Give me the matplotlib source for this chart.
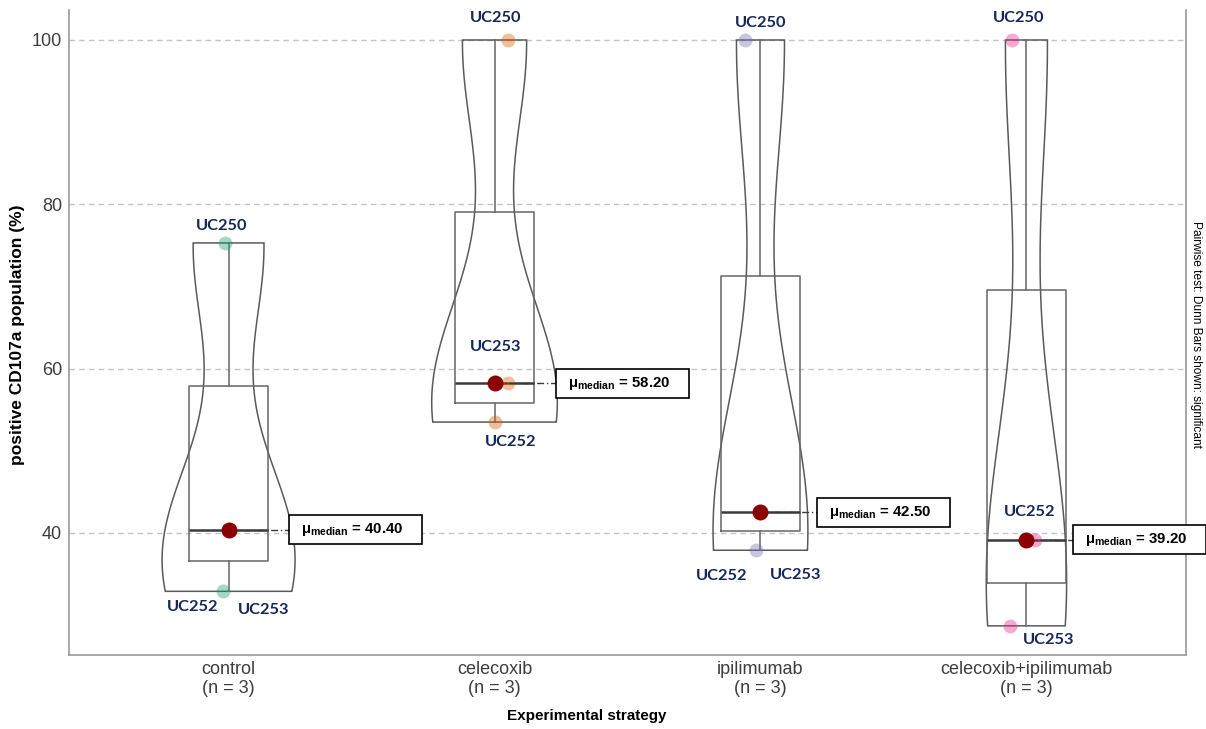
import numpy as np
import matplotlib
matplotlib.use("Agg")
import matplotlib.pyplot as plt
from matplotlib.patches import Rectangle

# ---------------- data ----------------
categories = ["control", "celecoxib", "ipilimumab", "celecoxib+ipilimumab"]
group_sizes = [3, 3, 3, 3]
sample_ids = ["UC250", "UC252", "UC253"]
control_values = [75.3, 32.9, 40.4]
celecoxib_values = [100.0, 53.5, 58.2]
ipilimumab_values = [100.0, 37.9, 42.5]
combination_values = [100.0, 39.2, 28.7]
y_ticks = [40, 60, 80, 100]

series = [control_values, celecoxib_values, ipilimumab_values, combination_values]

# ---------------- styling / layout ----------------
point_colors = ["#1B9E77", "#D95F02", "#7570B3", "#E7298A"]
jitter = [[-0.013, -0.02, 0.0], [0.05, 0.0, 0.05], [-0.06, -0.017, 0.0], [-0.055, 0.033, -0.062]]
# label offsets (pixels: dx right, dy up) relative to each point
label_offsets = [
    [(-3, 17), (-31, -16), (35, -80)],
    [(-12, 22), (16, -20), (-12, 36)],
    [(16, 17), (-34, -26), (35, -63)],
    [(7, 22), (-6, 28), (39, -14)],
]
median_label_dx = [0.227, 0.233, 0.212, 0.175]
label_color = "#16275C"

plt.rcParams["mathtext.fontset"] = "custom"
plt.rcParams["mathtext.rm"] = "Liberation Sans"
plt.rcParams["mathtext.bf"] = "Liberation Sans:bold"
plt.rcParams["font.family"] = ["Liberation Sans", "DejaVu Sans"]

W, H = 1206, 729
fig = plt.figure(figsize=(W / 100, H / 100), dpi=100)
ax = fig.add_axes([69 / W, 1 - 655 / H, (1186 - 69) / W, (655 - 10) / H])
ax.set_xlim(0.4, 4.6)
ax.set_ylim(25.15, 103.65)

positions = np.arange(1, len(categories) + 1)

# grid
for t in y_ticks:
    ax.axhline(t, color="#c4c4c4", lw=1.0, ls=(0, (4, 3)), zorder=0)


def bw_nrd0(x):
    x = np.asarray(x, float)
    sd = np.std(x, ddof=1)
    q75, q25 = np.percentile(x, [75, 25])
    lo = min(sd, (q75 - q25) / 1.34)
    return 0.9 * lo * len(x) ** -0.2


grids, dens = [], []
for vals in series:
    v = np.asarray(vals, float)
    bw = bw_nrd0(v)
    g = np.linspace(v.min(), v.max(), 512)
    d = np.exp(-0.5 * ((g[:, None] - v[None, :]) / bw) ** 2).sum(1) / (len(v) * bw * np.sqrt(2 * np.pi))
    grids.append(g)
    dens.append(d)
dmax = max(d.max() for d in dens)

# violins
for pos, g, d in zip(positions, grids, dens):
    hw = 0.25 * d / dmax
    xs = np.concatenate([pos - hw, (pos + hw)[::-1]])
    ys = np.concatenate([g, g[::-1]])
    ax.fill(xs, ys, facecolor="none", edgecolor="#5a5a5a", lw=1.1, zorder=2)

# boxes
ax.boxplot(series, positions=positions, widths=0.3, whis=1.5, showcaps=False,
           showfliers=False, manage_ticks=False,
           boxprops=dict(color="#666666", lw=1.1),
           whiskerprops=dict(color="#666666", lw=1.1),
           medianprops=dict(color="#3a3a3a", lw=1.8), zorder=3)

# points
for i, vals in enumerate(series):
    for j, v in enumerate(vals):
        ax.plot(positions[i] + jitter[i][j], v, "o", ms=10, color=point_colors[i],
                alpha=0.4, mec="none", zorder=4)

# median points and labels
for i, vals in enumerate(series):
    med = float(np.median(vals))
    x0 = positions[i]
    xl = x0 + median_label_dx[i]
    ax.plot([x0, xl], [med, med], color="#3a3a3a", lw=1.0, ls=(0, (5, 2, 1, 2)), zorder=5)
    ax.plot(x0, med, "o", ms=11.5, color="#8B0000", mec="none", zorder=6)
    ax.add_patch(Rectangle((xl, med - 1.77), 0.5, 3.54, facecolor="white",
                           edgecolor="black", lw=1.2, zorder=7, clip_on=False))
    ax.text(xl + 0.045, med, "μ$_{\\mathbf{median}}$ = %.2f" % med, fontsize=10.8,
            fontweight="bold", va="center", ha="left", color="black", zorder=8,
            clip_on=False)

# sample labels
for i, vals in enumerate(series):
    for j, v in enumerate(vals):
        dx, dy = label_offsets[i][j]
        ax.annotate(sample_ids[j], (positions[i] + jitter[i][j], v),
                    xytext=(dx * 0.72, dy * 0.72), textcoords="offset points",
                    ha="center", va="center", fontsize=11.8, fontweight="bold",
                    family=["Lato", "DejaVu Sans"], color=label_color, zorder=9)

# axes styling
for s in ["left", "bottom", "right"]:
    ax.spines[s].set_color("#9a9a9a")
    ax.spines[s].set_linewidth(1.2)
ax.spines["top"].set_visible(False)
ax.set_yticks(y_ticks)
ax.set_yticklabels([str(t) for t in y_ticks])
ax.set_xticks(positions)
ax.set_xticklabels([f"{c}\n(n = {n})" for c, n in zip(categories, group_sizes)],
                   linespacing=1.15)
ax.tick_params(axis="both", length=0, labelsize=13, labelcolor="#3d3d3d")
ax.tick_params(axis="y", pad=5)
ax.tick_params(axis="x", pad=4)

fig.text(18 / W, 1 - 335 / H, "positive CD107a population (%)", rotation=90,
         ha="center", va="center", fontsize=12.5, fontweight="bold", color="black")
fig.text(587 / W, 1 - 716 / H, "Experimental strategy", ha="center", va="center",
         fontsize=11, fontweight="bold", color="black")
fig.text(1196 / W, 1 - 335 / H, "Pairwise test: Dunn Bars shown: significant",
         rotation=270, ha="center", va="center", fontsize=8.6, color="black")

fig.savefig("out.png", dpi=100, facecolor="white")
